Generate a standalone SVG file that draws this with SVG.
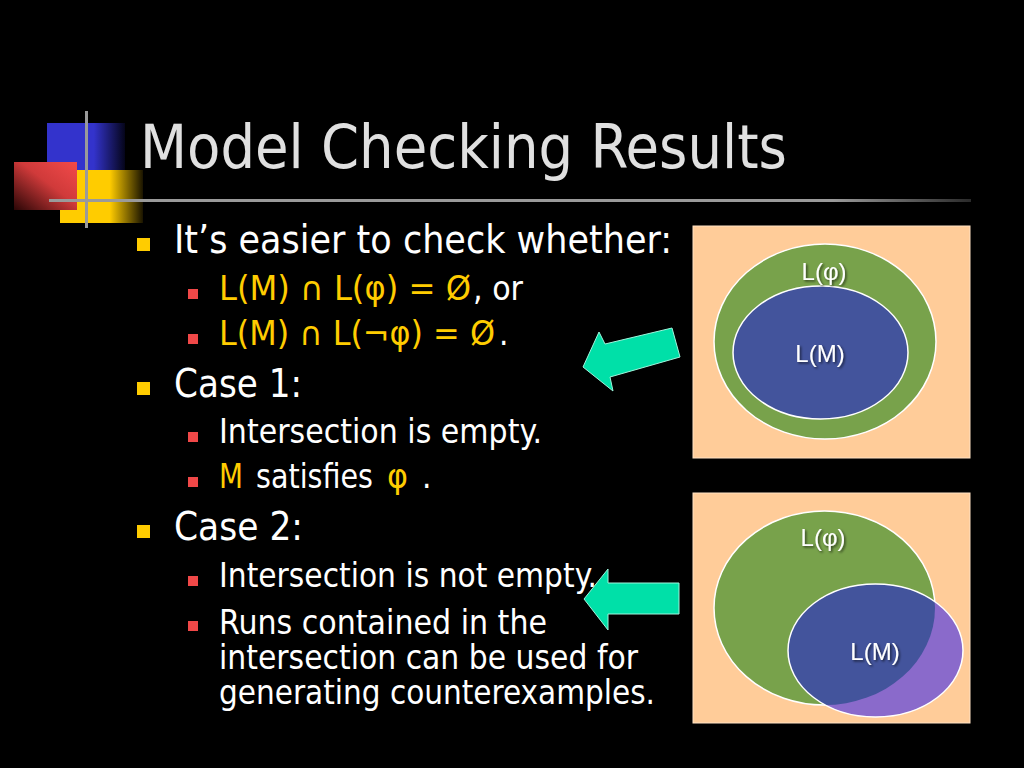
<svg xmlns="http://www.w3.org/2000/svg" width="1024" height="768" viewBox="0 0 1024 768">
  <defs>
    <linearGradient id="gBlue" x1="0" y1="0" x2="1" y2="0">
      <stop offset="0" stop-color="#3333cc"/>
      <stop offset="0.6" stop-color="#3333cc"/>
      <stop offset="1" stop-color="#05051a"/>
    </linearGradient>
    <linearGradient id="gYellow" x1="0" y1="0" x2="1" y2="0">
      <stop offset="0" stop-color="#ffcc00"/>
      <stop offset="0.6" stop-color="#ffcc00"/>
      <stop offset="1" stop-color="#1a1400"/>
    </linearGradient>
    <linearGradient id="gRed" x1="1" y1="0" x2="0" y2="1">
      <stop offset="0" stop-color="#f24a4a"/>
      <stop offset="0.45" stop-color="#d03a3a"/>
      <stop offset="1" stop-color="#2a0606"/>
    </linearGradient>
    <linearGradient id="gLine" x1="0" y1="0" x2="1" y2="0">
      <stop offset="0" stop-color="#9a9a9a"/>
      <stop offset="0.85" stop-color="#9a9a9a"/>
      <stop offset="1" stop-color="#2a2a2a"/>
    </linearGradient>
    <clipPath id="clipGreen2">
      <ellipse cx="824.5" cy="608" rx="110.5" ry="97"/>
    </clipPath>
    <filter id="shadow" x="-20%" y="-20%" width="140%" height="140%">
      <feDropShadow dx="1.5" dy="1.5" stdDeviation="0.8" flood-color="#000" flood-opacity="0.6"/>
    </filter>
  </defs>
  <style>
    .title { font-family: "DejaVu Sans Condensed", "DejaVu Sans", sans-serif; font-stretch: condensed; font-size: 60px; fill: #e0e0e0; }
    .l1 { font-family: "DejaVu Sans Condensed", "DejaVu Sans", sans-serif; font-stretch: condensed; font-size: 39px; fill: #ffffff; }
    .l2 { font-family: "DejaVu Sans Condensed", "DejaVu Sans", sans-serif; font-stretch: condensed; font-size: 33px; fill: #ffffff; }
    .y { fill: #ffcc00; }
    .b1 { fill: #ffcc00; }
    .b2 { fill: #f04848; }
    .lab { font-family: "Liberation Sans", Arial, sans-serif; font-size: 24px; fill: #ffffff; text-anchor: middle; filter: url(#shadow); }
    .panel { fill: #ffcc99; stroke: #ffe2c4; stroke-width: 1; }
    .green { fill: #78a24b; stroke: #ffffff; stroke-width: 1.5; }
    .blue { fill: #43549c; stroke: #ffffff; stroke-width: 1.5; }
    .purple { fill: #8a6acb; }
    .arrow { fill: #00e0a8; stroke: #9ff5dc; stroke-width: 1; stroke-linejoin: miter; }
  </style>

  <rect x="0" y="0" width="1024" height="768" fill="#000000"/>

  <g id="decoration">
    <rect x="47" y="123" width="78" height="48" fill="url(#gBlue)"/>
    <rect x="60" y="170" width="83" height="53" fill="url(#gYellow)"/>
    <rect x="14" y="162" width="63" height="48" fill="url(#gRed)"/>
    <rect x="85" y="111" width="3" height="117" fill="#9a9a9a"/>
    <rect x="49" y="199" width="922" height="3" fill="url(#gLine)"/>
  </g>

  <g id="title">
    <text class="title" x="140" y="168" textLength="647" lengthAdjust="spacingAndGlyphs">Model Checking Results</text>
  </g>

  <g id="bullets">
    <g id="item-easier">
      <rect class="b1" x="137" y="238" width="13" height="13"/>
      <text class="l1" x="174" y="253" textLength="498" lengthAdjust="spacingAndGlyphs">It’s easier to check whether:</text>
    </g>
    <g id="item-phi">
      <rect class="b2" x="188" y="289" width="10" height="10"/>
      <text class="l2 y" x="219" y="300" textLength="252" lengthAdjust="spacingAndGlyphs">L(M) ∩ L(φ) = Ø</text>
      <text class="l2" x="473" y="300" textLength="50" lengthAdjust="spacingAndGlyphs">, or</text>
    </g>
    <g id="item-notphi">
      <rect class="b2" x="188" y="334" width="10" height="10"/>
      <text class="l2 y" x="219" y="345" textLength="276" lengthAdjust="spacingAndGlyphs">L(M) ∩ L(¬φ) = Ø</text>
      <text class="l2" x="499" y="345">.</text>
    </g>
    <g id="item-case1">
      <rect class="b1" x="137" y="382" width="13" height="13"/>
      <text class="l1" x="174" y="397" textLength="128" lengthAdjust="spacingAndGlyphs">Case 1:</text>
    </g>
    <g id="item-empty">
      <rect class="b2" x="188" y="432" width="10" height="10"/>
      <text class="l2" x="219" y="443" textLength="323" lengthAdjust="spacingAndGlyphs">Intersection is empty.</text>
    </g>
    <g id="item-satisfies">
      <rect class="b2" x="188" y="477" width="10" height="10"/>
      <text class="l2 y" x="219" y="488" textLength="24" lengthAdjust="spacingAndGlyphs">M</text>
      <text class="l2" x="256" y="488" textLength="117" lengthAdjust="spacingAndGlyphs">satisfies</text>
      <text class="l2 y" x="387" y="488" textLength="21" lengthAdjust="spacingAndGlyphs">φ</text>
      <text class="l2" x="422" y="488">.</text>
    </g>
    <g id="item-case2">
      <rect class="b1" x="137" y="525" width="13" height="13"/>
      <text class="l1" x="174" y="540" textLength="129" lengthAdjust="spacingAndGlyphs">Case 2:</text>
    </g>
    <g id="item-notempty">
      <rect class="b2" x="188" y="576" width="10" height="10"/>
      <text class="l2" x="219" y="587" textLength="378" lengthAdjust="spacingAndGlyphs">Intersection is not empty.</text>
    </g>
    <g id="item-runs">
      <rect class="b2" x="188" y="621" width="10" height="10"/>
      <text class="l2"><tspan x="219" y="634" textLength="328" lengthAdjust="spacingAndGlyphs">Runs contained in the</tspan><tspan x="219" y="669" textLength="419" lengthAdjust="spacingAndGlyphs">intersection can be used for</tspan><tspan x="219" y="704" textLength="436" lengthAdjust="spacingAndGlyphs">generating counterexamples.</tspan></text>
    </g>
  </g>

  <g id="panel1">
    <rect class="panel" x="693" y="226" width="277" height="232"/>
    <ellipse class="green" cx="825" cy="341.5" rx="111" ry="97.5"/>
    <ellipse class="blue" cx="820.5" cy="352.5" rx="87.5" ry="66.5"/>
    <text class="lab" x="824" y="280">L(φ)</text>
    <text class="lab" x="820" y="362">L(M)</text>
  </g>

  <g id="panel2">
    <rect class="panel" x="693" y="493" width="277" height="230"/>
    <ellipse class="green" cx="824.5" cy="608" rx="110.5" ry="97"/>
    <ellipse class="purple" cx="875.5" cy="650.5" rx="87.5" ry="66.5"/>
    <ellipse fill="#43549c" cx="875.5" cy="650.5" rx="87.5" ry="66.5" clip-path="url(#clipGreen2)"/>
    <ellipse fill="none" stroke="#ffffff" stroke-width="1.5" cx="875.5" cy="650.5" rx="87.5" ry="66.5"/>
    <text class="lab" x="823" y="546">L(φ)</text>
    <text class="lab" x="875" y="660">L(M)</text>
  </g>

  <g id="connectors">
    <polygon class="arrow" points="583,367 599,332 605,344 672,328 680,357 610,377 613,391"/>
    <polygon class="arrow" points="584,599 608,569 608,583 679,583 679,614 608,614 608,630"/>
  </g>
</svg>
